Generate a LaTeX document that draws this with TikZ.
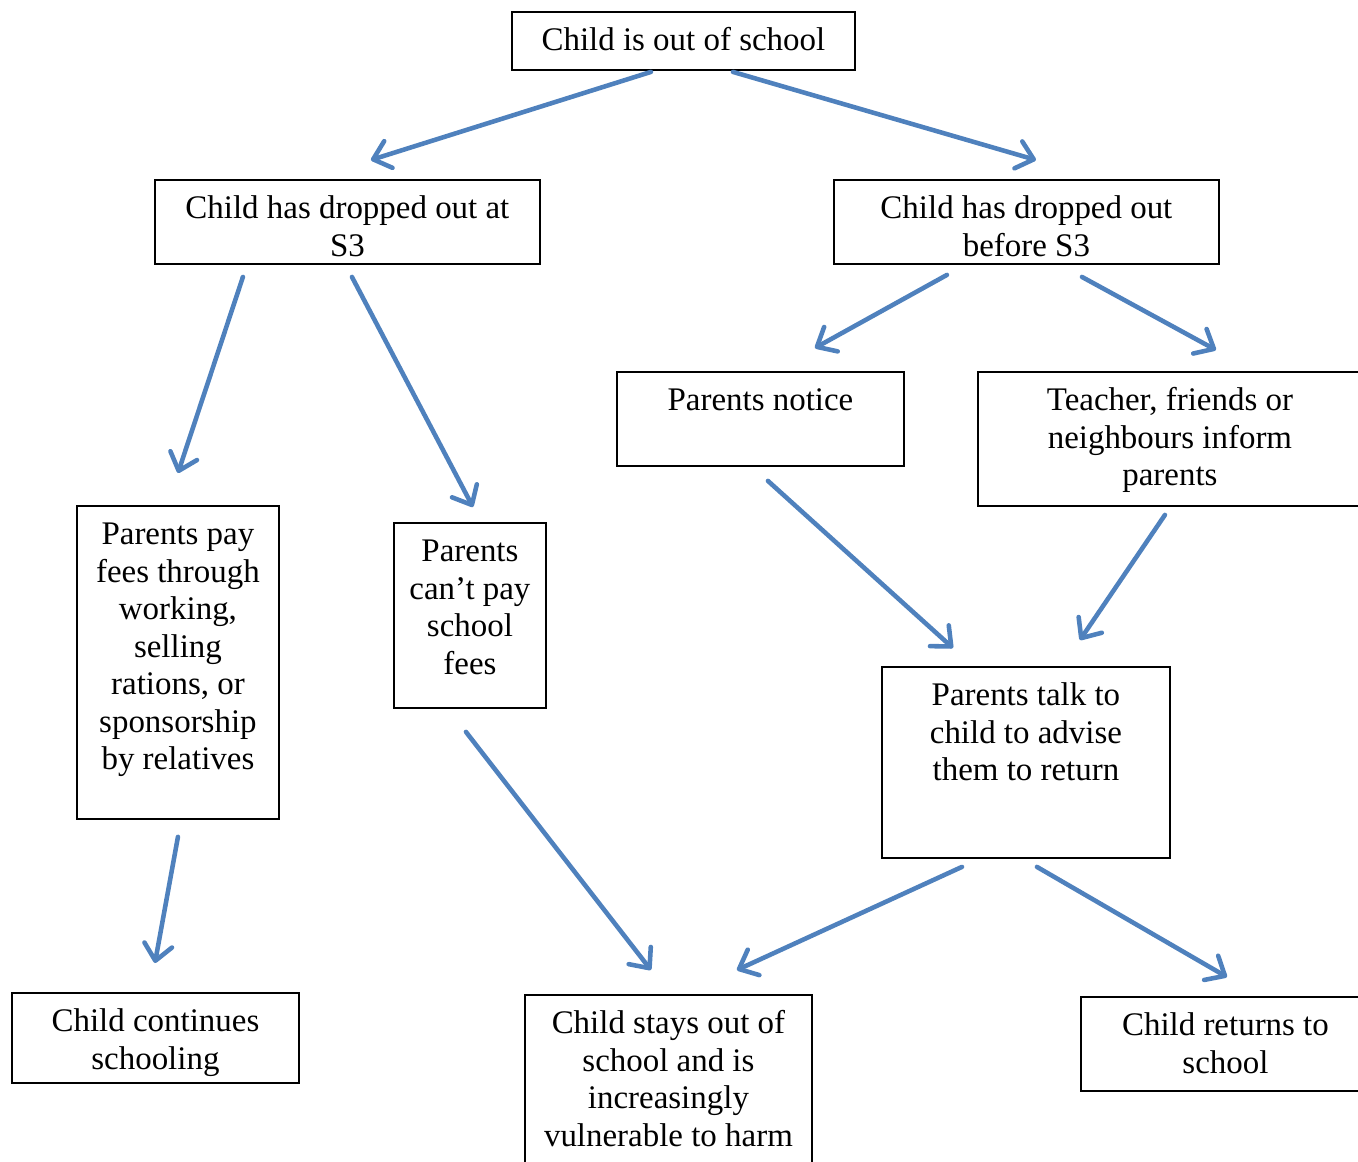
\documentclass[tikz,border=0pt]{standalone}
\usepackage{fontspec}
\setmainfont{Liberation Serif}
\usepackage{tikz}
\usetikzlibrary{arrows.meta, positioning, calc}
\definecolor{flowblue}{RGB}{79,129,189}
\tikzset{
	box/.style = {
		draw, line width=1.1pt,
		inner xsep=0pt, inner ysep=0pt,
		anchor=north west, align=flush center,
		text height=0.78cm
	},
	flow/.style = {
		color=flowblue, line width=2.6pt, line cap=round,
		-{Straight Barb[length=3.2mm, width=5.6mm, round]}
	}
}

\begin{document}
\begin{tikzpicture}[x=0.02cm, y=-0.02cm]
	\useasboundingbox (0,0) rectangle (1358,1162);
	\tikzstyle{every node}=[font=\fontsize{18.75}{21.3}\selectfont]
	
	% boxes, placed by their top left corner
	\node [box, text width=6.86cm, text depth=0.38cm] (out) at (511,11) {Child is out of school};
	\node [box, text width=7.7cm, text depth=0.9cm] (atS) at (154,179) {Child has dropped out at\\S3};
	\node [box, text width=7.7cm, text depth=0.9cm] (beforeS) at (833,179) {Child has dropped out\\before S3};
	\node [box, text width=5.74cm, text depth=1.1cm] (notice) at (616,371) {Parents notice};
	\node [box, text width=7.68cm, text depth=1.9cm] (inform) at (977,371) {Teacher, friends or\\neighbours inform\\parents};
	\node [box, text width=4.04cm, text depth=5.48cm] (pay) at (76,505) {Parents pay\\fees through\\working,\\selling\\rations, or\\sponsorship\\by relatives};
	\node [box, text width=3.04cm, text depth=2.92cm] (cantpay) at (393,522) {Parents\\can't pay\\school\\fees};
	\node [box, text width=5.76cm, text depth=3.04cm] (talk) at (881,666) {Parents talk to\\child to advise\\them to return};
	\node [box, text width=5.74cm, text depth=1.02cm] (continues) at (11,992) {Child continues\\schooling};
	\node [box, text width=5.74cm, text depth=3.22cm] (stays) at (524,994) {Child stays out of\\school and is\\increasingly\\vulnerable to harm};
	\node [box, text width=5.78cm, text depth=1.1cm] (returns) at (1080,996) {Child returns to\\school};
	
	% arrows
	\draw [flow] ($(out.south)+(-32.5,1)$) -- ($(atS.north)+(23.5,-19)$);
	\draw [flow] ($(out.south)+(49.5,1)$) -- ($(beforeS.north)+(9.5,-19)$);
	\draw [flow] ($(atS.south)+(-104.5,12)$) -- ($(pay.north)+(0,-32)$);
	\draw [flow] ($(atS.south)+(4.5,12)$) -- ($(cantpay.north)+(3,-15)$);
	\draw [flow] ($(beforeS.south)+(-79.5,10)$) -- ($(notice.north)+(54.5,-23)$);
	\draw [flow] ($(beforeS.south)+(55.5,12)$) -- ($(inform.north)+(46,-21)$);
	\draw [flow] ($(notice.south)+(7.5,14)$) -- ($(talk.north)+(-73,-18)$);
	\draw [flow] ($(inform.south)+(-5,8)$) -- ($(talk.north)+(54,-26)$);
	\draw [flow] ($(pay.south)+(0,17)$) -- ($(continues.north)+(-0.5,-29)$);
	\draw [flow] ($(cantpay.south)+(-4,23)$) -- ($(stays.north)+(-17.5,-24)$);
	\draw [flow] ($(talk.south)+(-64,8)$) -- ($(stays.north)+(68.5,-24)$);
	\draw [flow] ($(talk.south)+(11,8)$) -- ($(returns.north)+(1.5,-19)$);
	
\end{tikzpicture}
\end{document}
